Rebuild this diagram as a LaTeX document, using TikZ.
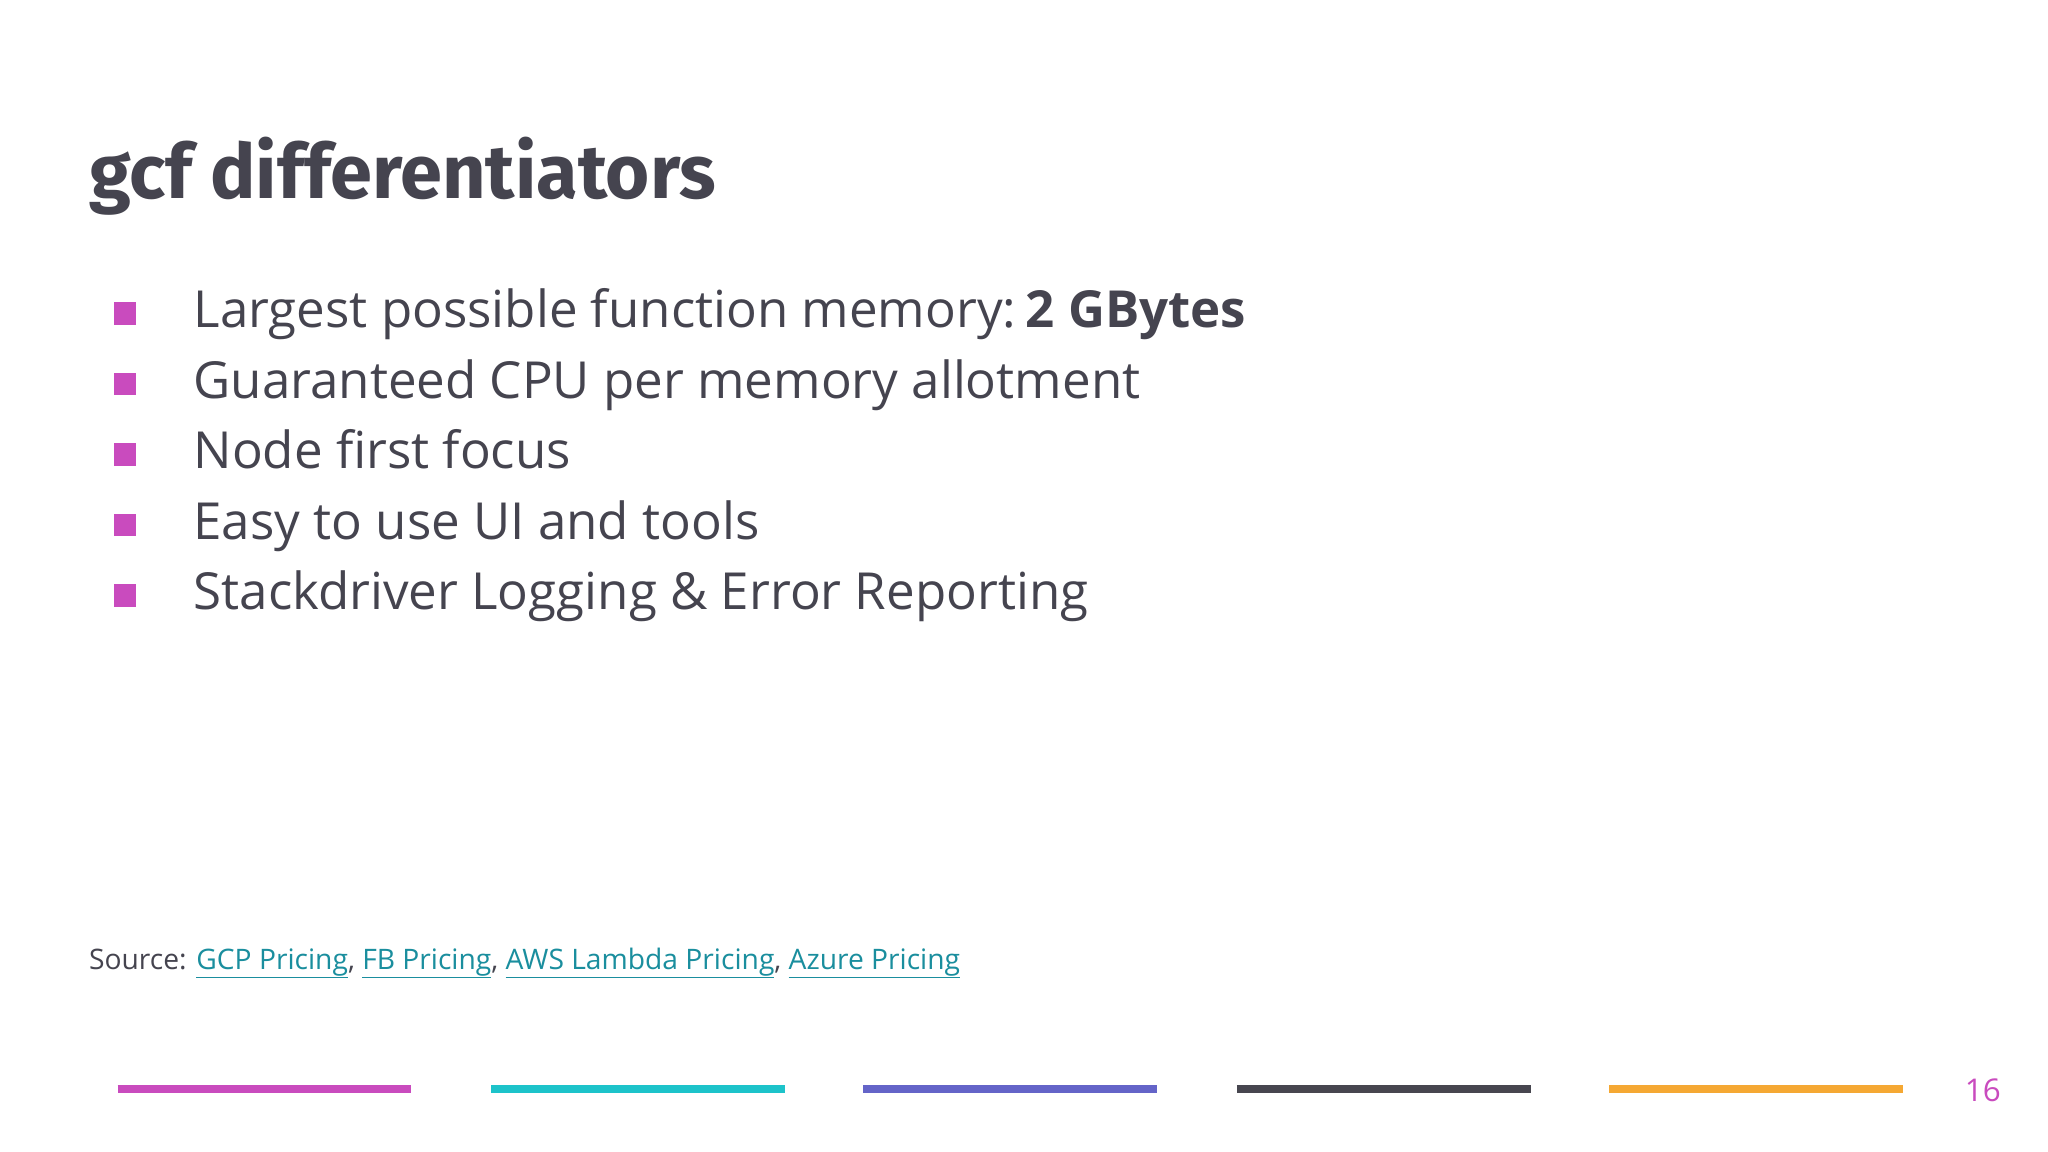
\documentclass[tikz,border=0pt]{standalone}
\usepackage{fontspec}
\setmainfont{Open Sans}
\newfontfamily\titlefont{Fira Sans}[UprightFont=* SemiBold,BoldFont=* Bold]
\definecolor{txt}{HTML}{45444F}
\definecolor{mag}{HTML}{C94BBE}
\definecolor{cyn}{HTML}{1DC3CA}
\definecolor{pur}{HTML}{6464C8}
\definecolor{drk}{HTML}{47464F}
\definecolor{org}{HTML}{F5A833}
\definecolor{lnk}{HTML}{1A8E9E}
\newcommand{\lk}[1]{\textcolor{lnk}{\underline{#1}}}
\begin{document}
\begin{tikzpicture}[x=1pt,y=-1pt,
  bul/.style={fill=mag,minimum size=17pt,inner sep=0pt},
  item/.style={anchor=base west,inner sep=0pt,text=txt,font=\fontsize{39.1}{48}\selectfont},
  bar/.style={line width=6pt}]
\useasboundingbox[fill=white] (0,0) rectangle (1568,882);
\node[anchor=base west,inner sep=0pt,text=txt,font=\titlefont\bfseries\fontsize{58}{64}\selectfont] (title) at (68,152) {gcf differentiators};
\foreach \i/\t in {1/{Largest possible function memory:\kern-3pt\ \textbf{2 GBytes}},2/{Guaranteed CPU per memory allotment},3/{Node first focus},4/{Easy to use UI and tools},5/{Stackdriver Logging \& Error Reporting}}{
  \node[bul] (b\i) at (95.5,186+54*\i) {};
  \node[item] (t\i) at (148,197+54*\i) {\t};
}
\node[anchor=base west,inner sep=0pt,text=txt,font=\fontsize{21.6}{26}\selectfont] (src) at (68,742) {Source: \lk{GCP Pricing}, \lk{FB Pricing}, \lk{AWS Lambda Pricing}, \lk{Azure Pricing}};
\foreach \n/\a/\c in {1/90/mag,2/376/cyn,3/661/pur,4/947/drk,5/1232/org}{
  \coordinate (s\n) at (\a,834); \coordinate (e\n) at (\a+225,834);
  \draw[bar,\c] (s\n) -- (e\n);
}
\node[anchor=base east,inner sep=0pt,text=mag,font=\fontsize{24}{28}\selectfont] (pg) at (1532,843) {16};
\end{tikzpicture}
\end{document}
